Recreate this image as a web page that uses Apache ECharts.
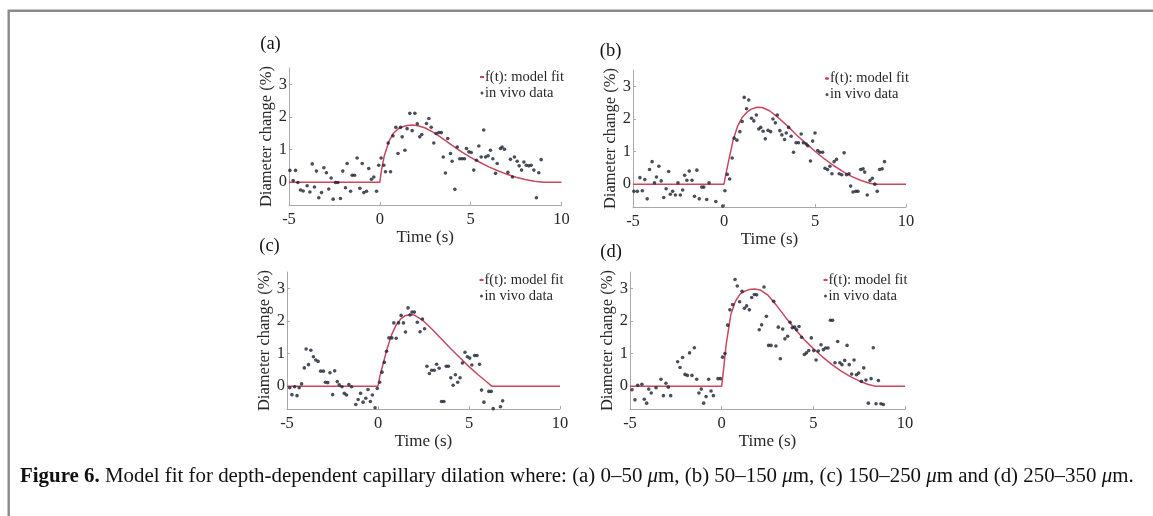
<!DOCTYPE html>
<html><head><meta charset="utf-8">
<script src="https://cdn.jsdelivr.net/npm/echarts@6/dist/echarts.min.js"></script>
<style>html,body{margin:0;padding:0;background:#fff}#c{width:1153px;height:516px}</style>
</head><body><div id="c"></div>
<script>
// ---------- data ----------
const panelLabels = ['(a)', '(b)', '(c)', '(d)'];
const xTicks = [-5, 0, 5, 10];
const yTicks = [0, 1, 2, 3];
const xName = 'Time (s)';
const yName = 'Diameter change (%)';
const fitName = 'f(t): model fit';
const dataName = 'in vivo data';

const dataA = [[-4.95,0.36],[-4.77,0.05],[-4.64,0.36],[-4.51,-0.01],[-4.37,-0.24],[-4.22,-0.27],[-4.0,-0.11],[-3.85,-0.30],[-3.72,0.56],[-3.6,-0.15],[-3.49,0.34],[-3.36,-0.48],[-3.21,-0.32],[-3.08,0.44],[-2.94,0.29],[-2.81,-0.21],[-2.68,0.13],[-2.57,-0.52],[-2.44,-0.01],[-2.31,-0.01],[-2.17,-0.50],[-2.04,0.34],[-1.89,-0.17],[-1.8,0.57],[-1.61,-0.28],[-1.52,0.21],[-1.39,0.21],[-1.25,0.74],[-1.1,-0.19],[-0.97,0.57],[-0.88,-0.32],[-0.73,-0.28],[-0.61,0.42],[-0.46,0.09],[-0.33,0.16],[-0.18,-0.28],[-0.06,0.52],[0.07,0.74],[0.22,0.52],[0.31,0.32],[0.46,1.20],[0.59,0.32],[0.72,1.42],[0.88,1.68],[1.0,0.88],[1.14,1.68],[1.23,1.39],[1.38,0.98],[1.5,1.64],[1.65,2.11],[1.78,1.58],[1.93,2.11],[2.06,1.79],[2.2,1.39],[2.31,1.46],[2.57,1.80],[2.7,1.95],[2.83,1.68],[2.97,1.20],[3.1,1.49],[3.25,1.52],[3.38,1.52],[3.49,0.77],[3.61,0.28],[3.74,1.34],[3.89,0.88],[3.98,0.64],[4.13,-0.22],[4.26,1.08],[4.4,0.72],[4.53,0.72],[4.66,0.72],[4.77,1.03],[4.9,0.93],[5.03,0.91],[5.17,0.37],[5.32,0.67],[5.45,1.11],[5.58,0.77],[5.72,1.60],[5.82,0.77],[5.96,0.81],[6.09,0.98],[6.22,0.72],[6.37,0.27],[6.46,0.57],[6.64,1.03],[6.73,1.08],[6.86,1.01],[7.05,0.30],[7.19,0.70],[7.3,0.16],[7.41,0.77],[7.56,0.64],[7.67,0.50],[7.8,0.37],[7.93,0.62],[8.06,0.52],[8.2,0.50],[8.33,0.52],[8.48,0.37],[8.62,-0.48],[8.75,0.29],[8.88,0.69]];
const fitA = [[-5,0],[0,0],[0.1,0.4],[0.25,0.82],[0.5,1.25],[0.75,1.5],[1,1.63],[1.25,1.7],[1.5,1.74],[1.8,1.75],[2.1,1.73],[2.5,1.66],[3,1.51],[3.5,1.32],[4,1.12],[4.5,0.93],[5,0.76],[5.5,0.61],[6,0.47],[6.5,0.35],[7,0.24],[7.5,0.15],[8,0.08],[8.5,0.03],[9,0],[10,0]];

const dataB = [[-4.95,-0.22],[-4.76,-0.22],[-4.62,0.20],[-4.49,-0.20],[-4.35,0.14],[-4.22,-0.45],[-4.09,0.45],[-3.95,0.69],[-3.82,0.04],[-3.71,0.22],[-3.58,0.55],[-3.45,0.10],[-3.31,-0.41],[-3.18,-0.14],[-3.04,0.39],[-2.95,-0.31],[-2.82,-0.22],[-2.67,-0.33],[-2.53,0.04],[-2.40,-0.33],[-2.27,-0.18],[-2.16,0.27],[-2.04,0.12],[-1.91,0.40],[-1.76,0.12],[-1.62,-0.37],[-1.49,0.43],[-1.36,-0.45],[-1.22,-0.09],[-1.11,-0.09],[-0.95,-0.47],[-0.82,0.04],[-0.45,-0.53],[-0.07,-0.67],[0.05,-0.20],[0.18,0.30],[0.31,0.16],[0.45,0.80],[0.56,1.41],[0.71,1.35],[0.87,1.61],[1.0,1.92],[1.11,2.66],[1.24,2.31],[1.36,2.58],[1.51,2.02],[1.64,1.94],[1.78,2.12],[1.91,1.69],[2.02,1.74],[2.15,1.62],[2.27,1.39],[2.42,1.65],[2.56,1.61],[2.69,2.0],[2.82,1.88],[2.93,2.12],[3.07,1.64],[3.18,1.51],[3.33,1.37],[3.42,1.57],[3.55,1.74],[3.69,1.47],[3.82,0.98],[3.96,1.27],[4.09,1.27],[4.24,1.54],[4.36,1.27],[4.51,1.23],[4.6,1.18],[4.75,0.71],[4.87,1.32],[5.0,1.57],[5.15,1.03],[5.27,0.98],[5.42,0.98],[5.55,0.49],[5.69,0.45],[5.82,0.55],[5.93,0.32],[6.05,0.69],[6.18,0.76],[6.33,0.32],[6.47,0.29],[6.6,0.96],[6.73,0.29],[6.87,0.32],[6.96,-0.06],[7.09,-0.24],[7.24,-0.22],[7.36,-0.22],[7.51,0.45],[7.64,0.47],[7.73,0.37],[7.87,-0.33],[8.02,0.11],[8.15,0.18],[8.29,0.0],[8.42,-0.22],[8.55,0.45],[8.69,0.47],[8.82,0.69]];
const fitB = [[-5,0],[0,0],[0.1,0.3],[0.25,0.7],[0.5,1.35],[0.75,1.78],[1,2.05],[1.25,2.2],[1.5,2.3],[1.8,2.36],[2.1,2.35],[2.5,2.25],[3,2.03],[3.5,1.78],[4,1.5],[4.5,1.25],[5,1.01],[5.5,0.78],[6,0.58],[6.5,0.4],[7,0.24],[7.5,0.12],[8,0.03],[8.3,0],[10,0]];

const dataC = [[-4.85,-0.05],[-4.73,-0.26],[-4.58,-0.02],[-4.45,-0.29],[-4.33,-0.05],[-4.2,0.07],[-4.05,0.56],[-3.95,1.14],[-3.82,0.66],[-3.69,1.10],[-3.55,0.90],[-3.42,0.80],[-3.29,0.76],[-3.15,0.46],[-3.0,0.46],[-2.89,0.12],[-2.76,0.11],[-2.64,0.41],[-2.49,-0.26],[-2.38,0.47],[-2.24,0.14],[-2.13,0.04],[-1.98,-0.02],[-1.85,-0.22],[-1.73,-0.27],[-1.6,0.05],[-1.45,-0.02],[-1.22,-0.56],[-1.09,-0.41],[-0.96,-0.22],[-0.82,-0.49],[-0.67,-0.37],[-0.55,-0.10],[-0.42,-0.47],[-0.31,-0.27],[-0.16,-0.66],[-0.04,-0.07],[0.09,0.12],[0.22,0.43],[0.35,0.73],[0.47,1.07],[0.6,1.48],[0.76,1.48],[0.87,1.94],[1.0,1.47],[1.13,1.94],[1.27,2.17],[1.4,1.94],[1.51,1.66],[1.65,2.40],[1.76,2.18],[1.87,2.27],[2.0,2.27],[2.16,1.96],[2.31,1.67],[2.44,2.06],[2.56,1.76],[2.69,0.61],[2.82,0.39],[2.95,0.49],[3.09,0.49],[3.22,0.67],[3.36,0.55],[3.49,-0.47],[3.62,-0.47],[3.75,0.61],[3.87,0.61],[4.0,0.26],[4.13,0.03],[4.25,0.35],[4.38,0.12],[4.51,0.26],[4.64,0.71],[4.78,1.04],[4.91,0.90],[5.04,0.86],[5.16,0.65],[5.31,0.94],[5.44,0.94],[5.58,0.67],[5.69,-0.12],[5.82,-0.49],[6.09,-0.16],[6.22,-0.16],[6.33,-0.69],[6.73,-0.63],[6.85,-0.45]];
const fitC = [[-5,0],[0,0],[0.1,0.3],[0.25,0.62],[0.5,1.15],[0.75,1.58],[1,1.88],[1.25,2.06],[1.5,2.16],[1.75,2.2],[2,2.18],[2.5,2.0],[3,1.73],[3.5,1.44],[4,1.15],[4.5,0.87],[5,0.6],[5.5,0.35],[6,0.12],[6.25,0],[10,0]];

const dataD = [[-4.89,-0.11],[-4.73,-0.42],[-4.58,0.03],[-4.35,0.06],[-4.22,-0.40],[-4.09,-0.52],[-3.98,-0.09],[-3.84,-0.21],[-3.58,-0.05],[-3.31,0.21],[-3.18,-0.29],[-3.04,0.09],[-2.91,-0.03],[-2.78,-0.29],[-2.4,0.75],[-2.27,0.57],[-2.13,0.88],[-2.0,0.36],[-1.87,0.33],[-1.75,1.02],[-1.62,0.33],[-1.49,1.18],[-1.36,0.21],[-1.24,-0.21],[-1.11,-0.09],[-0.98,-0.52],[-0.85,-0.32],[-0.71,0.21],[-0.58,-0.15],[-0.45,-0.29],[-0.2,0.23],[-0.07,0.23],[0.05,0.89],[0.18,1.0],[0.33,1.87],[0.45,2.34],[0.6,2.50],[0.73,3.27],[0.85,3.07],[0.98,2.59],[1.11,2.91],[1.24,2.39],[1.36,2.46],[1.51,2.34],[1.64,2.72],[1.78,2.81],[1.91,2.80],[2.05,1.73],[2.18,1.88],[2.31,3.04],[2.44,2.14],[2.56,1.25],[2.69,1.25],[2.84,2.60],[2.96,1.23],[3.09,1.81],[3.2,0.84],[3.33,1.75],[3.45,1.45],[3.6,1.53],[3.73,1.96],[3.85,1.79],[3.98,1.81],[4.09,1.73],[4.22,1.83],[4.36,1.50],[4.51,0.97],[4.62,1.02],[4.75,1.09],[4.89,1.48],[5.02,1.09],[5.15,0.80],[5.27,1.08],[5.42,1.27],[5.55,1.12],[5.67,1.17],[5.8,1.17],[5.93,2.02],[6.05,2.02],[6.18,0.72],[6.33,1.37],[6.45,0.72],[6.56,0.66],[6.71,0.79],[6.84,1.25],[6.96,0.66],[7.09,0.37],[7.22,0.80],[7.35,0.35],[7.47,0.40],[7.62,0.15],[7.75,0.56],[7.87,0.19],[8.0,-0.52],[8.15,0.23],[8.27,1.18],[8.42,-0.54],[8.55,0.17],[8.69,-0.54],[8.82,-0.56]];
const fitD = [[-5,0],[0,0],[0.1,0.5],[0.25,1.3],[0.5,2.2],[0.75,2.6],[1,2.82],[1.25,2.91],[1.5,2.96],[1.8,2.98],[2.1,2.95],[2.5,2.8],[3,2.47],[3.5,2.1],[4,1.75],[4.5,1.43],[5,1.15],[5.5,0.9],[6,0.67],[6.5,0.47],[7,0.3],[7.5,0.16],[8,0.05],[8.4,0],[10,0]];

const captionBold = 'Figure 6.';
const captionLead = ' Model fit for depth-dependent capillary dilation where: ';
const captionParts = ['(a) 0–50 ', '(b) 50–150 ', '(c) 150–250 ', 'and (d) 250–350 '];
const unitMu = 'μ';

// ---------- layout / style ----------
const FONT = '"Liberation Serif", "Times New Roman", serif';
const grids = [
  {left: 289, top: 68, width: 272.5, height: 137},
  {left: 633, top: 70, width: 273, height: 137},
  {left: 287, top: 272, width: 273, height: 137},
  {left: 630, top: 272, width: 275, height: 137}
];
const legendPos = [
  {left: 479, top: 69.5}, {left: 824, top: 71}, {left: 478.5, top: 272.5}, {left: 822.5, top: 272.5}
];
const labelPos = [[270.5, 44], [610.5, 51.5], [269.5, 246.5], [611, 252.5]];
const AXIS = '#a8a8a8';
const TXT = '#262626';
const RED = '#c9475f';
const DOT = '#1b2232';

const scatterSets = [dataA, dataB, dataC, dataD];
const fitSets = [fitA, fitB, fitC, fitD];

const xAxis = grids.map((g, i) => ({
  type: 'value', gridIndex: i, min: -5, max: 10, interval: 5,
  name: xName, nameLocation: 'middle', nameGap: 24,
  nameTextStyle: {fontFamily: FONT, fontSize: 17, color: TXT},
  axisLine: {show: true, onZero: false, lineStyle: {color: AXIS, width: 1}},
  axisTick: {show: true, inside: true, length: 3, lineStyle: {color: AXIS}},
  axisLabel: {fontFamily: FONT, fontSize: 16.5, color: TXT, margin: 6},
  splitLine: {show: false}
}));
const yAxis = grids.map((g, i) => ({
  type: 'value', gridIndex: i, min: -0.7, max: 3.5,
  name: yName, nameLocation: 'middle', nameGap: 12,
  nameTextStyle: {fontFamily: FONT, fontSize: 16.5, color: TXT},
  axisLine: {show: true, onZero: false, lineStyle: {color: AXIS, width: 1}},
  axisTick: {show: true, inside: true, length: 3, lineStyle: {color: AXIS}, customValues: yTicks},
  axisLabel: {fontFamily: FONT, fontSize: 16.5, color: TXT, margin: 2, customValues: yTicks},
  splitLine: {show: false}
}));

const series = [];
fitSets.forEach((d, i) => {
  series.push({
    type: 'line', name: fitName, xAxisIndex: i, yAxisIndex: i, data: d,
    symbol: 'none', showSymbol: false, lineStyle: {color: RED, width: 1.5},
    itemStyle: {color: RED}, z: 2, animation: false
  });
  series.push({
    type: 'scatter', name: dataName, xAxisIndex: i, yAxisIndex: i, data: scatterSets[i],
    symbol: 'circle', symbolSize: 3.6, itemStyle: {color: DOT}, z: 3, animation: false
  });
});

const legend = legendPos.map(p => ({
  left: p.left, top: p.top, orient: 'vertical', padding: 0, itemGap: 1,
  itemWidth: 4, itemHeight: 3, selectedMode: false,
  data: [fitName, dataName],
  textStyle: {fontFamily: FONT, fontSize: 14.5, color: TXT, lineHeight: 15, padding: [0, 0, 0, -4]}
}));

const captionRich = '{b|' + captionBold + '}{r|' + captionLead + captionParts[0] + '}{i|' + unitMu + '}{r|m, ' +
  captionParts[1] + '}{i|' + unitMu + '}{r|m, ' + captionParts[2] + '}{i|' + unitMu + '}{r|m ' +
  captionParts[3] + '}{i|' + unitMu + '}{r|m.}';

const graphic = [
  {type: 'polyline', shape: {points: [[8.7, 516], [8.7, 10.7], [1153, 10.7]]},
   style: {stroke: '#8a8a8a', lineWidth: 2.4, fill: null}, silent: true},
  ...panelLabels.map((t, i) => ({
    type: 'text', x: labelPos[i][0], y: labelPos[i][1],
    style: {text: t, fontFamily: FONT, fontSize: 18.5, fill: '#111', align: 'center', verticalAlign: 'middle'}
  })),
  {type: 'text', x: 20, y: 477, scaleX: 1.045,
   style: {
     rich: {
       b: {fontFamily: FONT, fontSize: 20, fontWeight: 'bold', fill: '#111'},
       r: {fontFamily: FONT, fontSize: 20, fill: '#111'},
       i: {fontFamily: FONT, fontSize: 20, fontStyle: 'italic', fill: '#111'}
     },
     text: captionRich,
     verticalAlign: 'middle', align: 'left'
   }}
];

const chart = echarts.init(document.getElementById('c'), null, {renderer: 'canvas'});
chart.setOption({
  backgroundColor: '#fff', animation: false,
  grid: grids.map(g => Object.assign({containLabel: false}, g)),
  xAxis, yAxis, series, legend, graphic
});
</script></body></html>
